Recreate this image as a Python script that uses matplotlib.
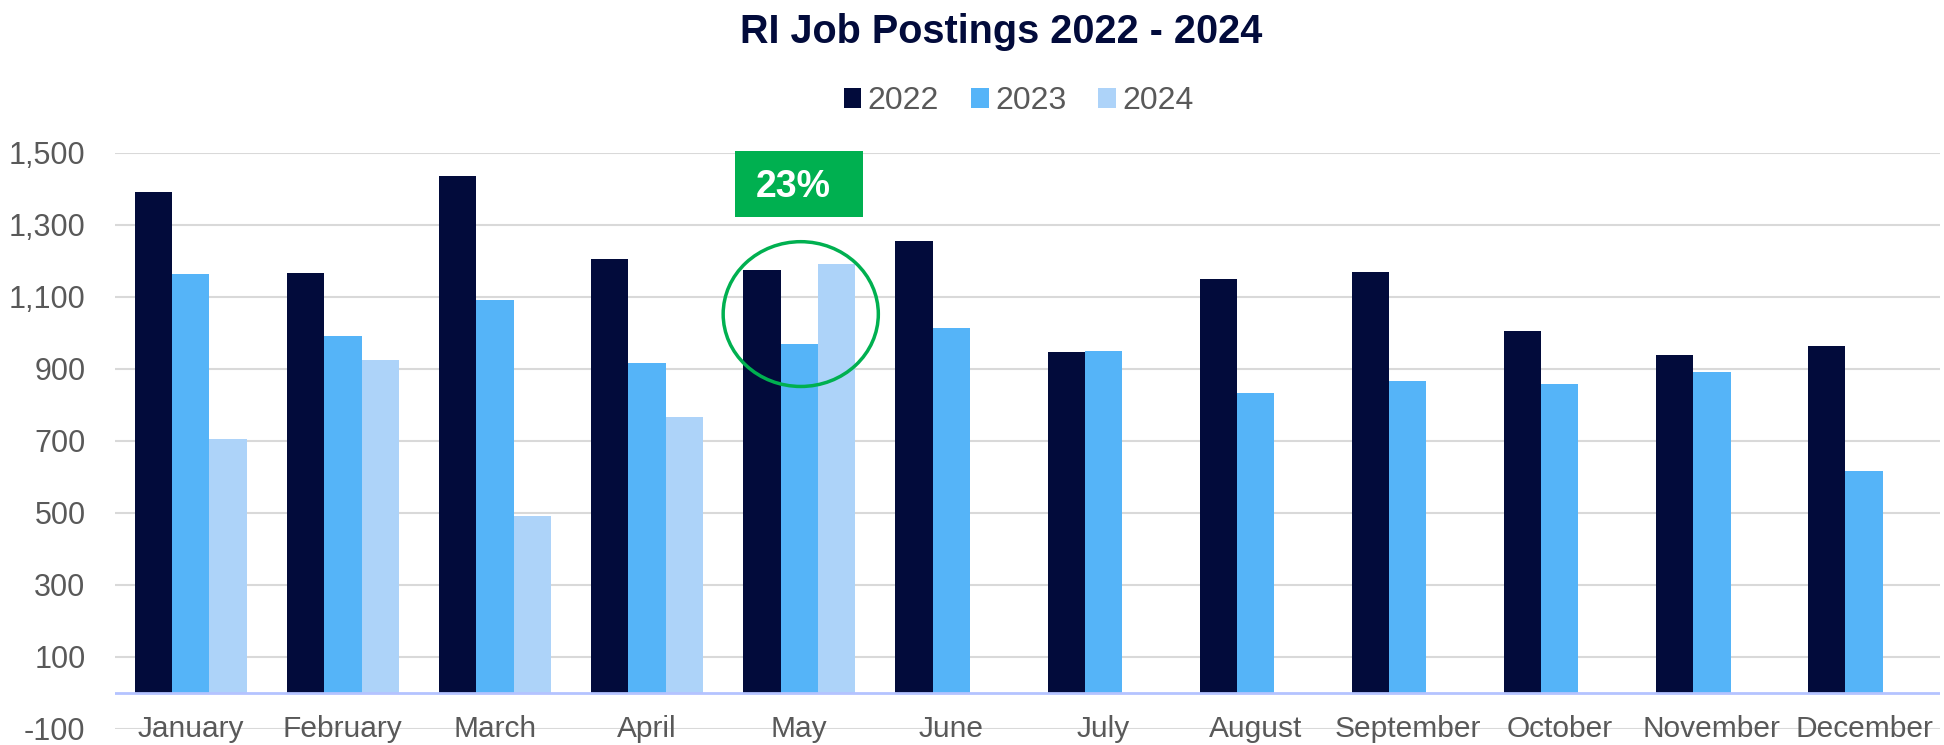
import numpy as np
from matplotlib import pyplot as plt
from matplotlib.patches import Ellipse, Rectangle

plt.rcParams['font.family'] = ['Liberation Sans', 'DejaVu Sans']

months = ["January", "February", "March", "April", "May", "June",
          "July", "August", "September", "October", "November", "December"]
years = ["2022", "2023", "2024"]
posts_2022 = [1390, 1167, 1435, 1205, 1175, 1254, 948, 1150, 1169, 1005, 937, 964]
posts_2023 = [1162, 992, 1090, 916, 970, 1013, 950, 832, 866, 858, 890, 617]
posts_2024 = [705, 925, 490, 767, 1190]
yticks = [-100, 100, 300, 500, 700, 900, 1100, 1300, 1500]

colors = ["#020B3B", "#55B4F8", "#ADD3F9"]
grey = "#595959"
green = "#00B050"

fig = plt.figure(figsize=(19.44, 7.45), dpi=100)
ax = fig.add_axes([0.059, 0.0215, 0.939, 0.7735])

x = np.arange(len(months))
w = 0.245
series = [posts_2022, posts_2023, posts_2024]
for k, (vals, c, lab) in enumerate(zip(series, colors, years)):
    xs = x[:len(vals)] + (k - 1) * w
    ax.bar(xs, vals, width=w, color=c, label=lab, zorder=3)

ax.set_xlim(-0.5, len(months) - 0.5)
ax.set_ylim(-100, 1500)
ax.set_yticks(yticks)
ax.set_yticklabels([f"{v:,}" for v in yticks], fontsize=22, color=grey)
ax.set_xticks([])
ax.tick_params(axis="y", length=0, pad=21)
ax.grid(axis="y", color="#D9D9D9", linewidth=1.5, zorder=0)
for s in ax.spines.values():
    s.set_visible(False)
ax.axhline(0, color="#B4C3FF", linewidth=2, zorder=4)

# month labels sit on the -100 line like the original
for i, m in enumerate(months):
    ax.text(i, -100, m, ha="center", va="center", fontsize=21.5, color=grey,
            zorder=5)

# highlight for May
ax.add_patch(Rectangle((3.58, 1321), 0.84, 183, facecolor=green,
                       edgecolor="none", zorder=6, clip_on=False))
ax.text(3.96, 1405, "23%", ha="center", va="center", fontsize=27,
        fontweight="bold", color="white", zorder=7)
ax.add_patch(Ellipse((4.01, 1052), 1.02, 402, facecolor="none",
                     edgecolor=green, linewidth=2.5, zorder=6))

fig.text(0.515, 0.957, "RI Job Postings 2022 - 2024", ha="center", va="center",
         fontsize=28.5, fontweight="bold", color="#020B3B")
fig.legend(loc="center", bbox_to_anchor=(0.524, 0.864), ncol=3, frameon=False,
           fontsize=23, labelcolor=grey, handlelength=0.55, handleheight=0.55,
           handletextpad=0.2, columnspacing=1.0)

fig.savefig("out.png", dpi=100)
